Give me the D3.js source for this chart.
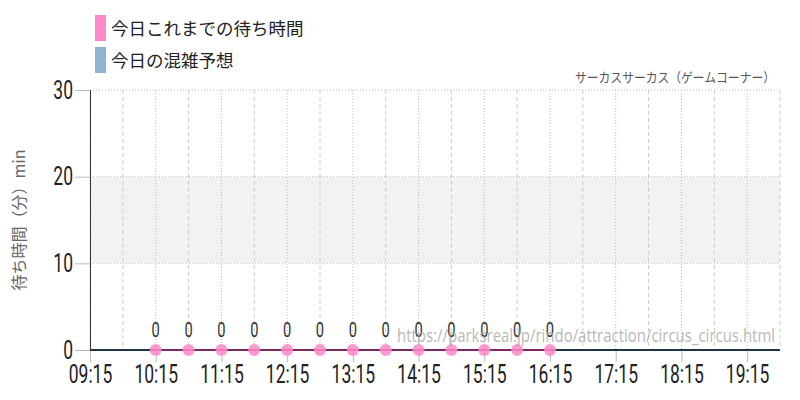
<!DOCTYPE html>
<html>
<head>
<meta charset="utf-8">
<script src="https://cdn.jsdelivr.net/npm/d3@7"></script>
<style>
  body { margin: 0; background: #fff; }
  svg { display: block; }
  .num { font-family: Roboto, "Liberation Sans", sans-serif; font-weight: 400; }
  .jp { font-family: "Noto Sans CJK JP", "Noto Sans", sans-serif; }
</style>
</head>
<body>
<div id="chart"></div>
<script>
// data
const legendLabels = ["今日これまでの待ち時間", "今日の混雑予想"];
const legendColors = ["#ff88c8", "#8fb3d0"];
const waitTimes = ["10:15", "10:45", "11:15", "11:45", "12:15", "12:45", "13:15",
  "13:45", "14:15", "14:45", "15:15", "15:45", "16:15"];
const waitValues = [0, 0, 0, 0, 0, 0, 0, 0, 0, 0, 0, 0, 0];
const forecastTimes = ["09:15", "10:15", "11:15", "12:15", "13:15", "14:15", "15:15",
  "16:15", "17:15", "18:15", "19:15", "19:45"];
const forecastValues = [0, 0, 0, 0, 0, 0, 0, 0, 0, 0, 0, 0];
const xTickLabels = ["09:15", "10:15", "11:15", "12:15", "13:15", "14:15", "15:15",
  "16:15", "17:15", "18:15", "19:15"];
const minorTickLabels = ["09:45", "10:45", "11:45", "12:45", "13:45", "14:45", "15:45",
  "16:45", "17:45", "18:45", "19:45"];
const yTicks = [0, 10, 20, 30];
const band = [10, 20];
const title = "サーカスサーカス（ゲームコーナー）";
const yLabel = "待ち時間（分）min";
const watermark = "https://parksreal.jp/rindo/attraction/circus_circus.html";

// dimensions
const dimensions = {
  width: 800,
  height: 400,
  margin: { top: 90, right: 20, bottom: 50, left: 90 },
};
dimensions.boundedWidth = dimensions.width - dimensions.margin.left - dimensions.margin.right;
dimensions.boundedHeight = dimensions.height - dimensions.margin.top - dimensions.margin.bottom;

const narrow = 0.7; // squeeze for the condensed look of the numbers

const parseTime = d3.timeParse("%H:%M");

const svg = d3.select("#chart").append("svg")
  .attr("width", dimensions.width)
  .attr("height", dimensions.height);

const bounds = svg.append("g")
  .attr("transform", `translate(${dimensions.margin.left},${dimensions.margin.top})`);

// scales
const xScale = d3.scaleTime()
  .domain([parseTime("09:15"), parseTime("19:45")])
  .range([0, dimensions.boundedWidth]);

const yScale = d3.scaleLinear()
  .domain([0, 30])
  .range([dimensions.boundedHeight, 0]);

// band
bounds.append("rect")
  .attr("x", 0)
  .attr("width", dimensions.boundedWidth)
  .attr("y", yScale(band[1]))
  .attr("height", yScale(band[0]) - yScale(band[1]))
  .attr("fill", "#f2f2f2");

// vertical grid: dotted at hour ticks, dashed at half hours
bounds.append("g").selectAll("line")
  .data(xTickLabels)
  .join("line")
  .attr("x1", d => xScale(parseTime(d)))
  .attr("x2", d => xScale(parseTime(d)))
  .attr("y1", 0)
  .attr("y2", dimensions.boundedHeight)
  .attr("stroke", "#bbb")
  .attr("stroke-dasharray", "1,2");

bounds.append("g").selectAll("line")
  .data(minorTickLabels)
  .join("line")
  .attr("x1", d => xScale(parseTime(d)))
  .attr("x2", d => xScale(parseTime(d)))
  .attr("y1", 0)
  .attr("y2", dimensions.boundedHeight)
  .attr("stroke", "#ccc")
  .attr("stroke-dasharray", "4,3");

// horizontal grid
bounds.append("g").selectAll("line")
  .data(yTicks.filter(d => d > 0))
  .join("line")
  .attr("x1", 0)
  .attr("x2", dimensions.boundedWidth)
  .attr("y1", d => yScale(d))
  .attr("y2", d => yScale(d))
  .attr("stroke", "#bbb")
  .attr("stroke-dasharray", "1,2");

// y axis
const yAxis = bounds.append("g")
  .call(d3.axisLeft(yScale).tickValues(yTicks).tickSize(15).tickPadding(3));
yAxis.select(".domain").attr("stroke", "#333");
yAxis.selectAll(".tick line").attr("stroke", "#bbb");
yAxis.selectAll(".tick text")
  .attr("class", "num")
  .attr("x", 0)
  .attr("transform", `translate(-17,0) scale(${narrow},1)`)
  .attr("font-size", 25)
  .attr("fill", "#222");

// x axis
const xAxis = bounds.append("g")
  .attr("transform", `translate(0,${dimensions.boundedHeight})`)
  .call(d3.axisBottom(xScale)
    .tickValues(xTickLabels.map(parseTime))
    .tickFormat(d3.timeFormat("%H:%M"))
    .tickSize(12).tickPadding(3));
xAxis.select(".domain").remove();
xAxis.selectAll(".tick line").attr("stroke", "#bbb");
xAxis.selectAll(".tick text")
  .attr("class", "num")
  .attr("transform", `scale(${narrow},1)`)
  .attr("font-size", 25)
  .attr("fill", "#222");

// watermark
svg.append("text")
  .attr("x", 397)
  .attr("y", 342)
  .attr("font-family", "'Open Sans', 'Noto Sans', sans-serif")
  .attr("font-size", 19)
  .attr("textLength", 378)
  .attr("lengthAdjust", "spacingAndGlyphs")
  .attr("fill", "#aaa")
  .attr("fill-opacity", 0.85)
  .text(watermark);

// forecast line
const line = d3.line()
  .x(d => xScale(parseTime(d[0])))
  .y(d => yScale(d[1]));

bounds.append("path")
  .datum(d3.zip(forecastTimes, forecastValues))
  .attr("fill", "none")
  .attr("stroke", "#1e3248")
  .attr("stroke-width", 2)
  .attr("d", line);

// wait time line
const waitData = d3.zip(waitTimes, waitValues);
bounds.append("path")
  .datum(waitData)
  .attr("fill", "none")
  .attr("stroke", "#7a2a60")
  .attr("stroke-width", 2)
  .attr("d", line);

bounds.append("g").selectAll("circle")
  .data(waitData)
  .join("circle")
  .attr("cx", d => xScale(parseTime(d[0])))
  .attr("cy", d => yScale(d[1]))
  .attr("r", 6)
  .attr("fill", "#ff88c8")
  .attr("fill-opacity", 0.85);

bounds.append("g").selectAll("text")
  .data(waitData)
  .join("text")
  .attr("class", "num")
  .attr("transform", d => `translate(${xScale(parseTime(d[0]))},${yScale(d[1]) - 13}) scale(${narrow},1)`)
  .attr("text-anchor", "middle")
  .attr("font-size", 21)
  .attr("fill", "#333")
  .text(d => d[1]);

// title
svg.append("text")
  .attr("class", "jp")
  .attr("x", 575)
  .attr("y", 82)
  .attr("font-size", 13)
  .attr("textLength", 200)
  .attr("lengthAdjust", "spacingAndGlyphs")
  .attr("fill", "#555")
  .text(title);

// y label
svg.append("text")
  .attr("class", "jp")
  .attr("transform", `translate(25,${dimensions.margin.top + dimensions.boundedHeight / 2}) rotate(-90)`)
  .attr("text-anchor", "middle")
  .attr("font-size", 16)
  .attr("fill", "#666")
  .text(yLabel);

// legend
const legend = svg.append("g").selectAll("g")
  .data(legendLabels)
  .join("g")
  .attr("transform", (d, i) => `translate(95,${15 + i * 32})`);
legend.append("rect")
  .attr("width", 11)
  .attr("height", 26)
  .attr("fill", (d, i) => legendColors[i]);
legend.append("text")
  .attr("class", "jp")
  .attr("x", 16)
  .attr("y", 20)
  .attr("font-size", 17.5)
  .attr("fill", "#222")
  .text(d => d);
</script>
</body>
</html>
